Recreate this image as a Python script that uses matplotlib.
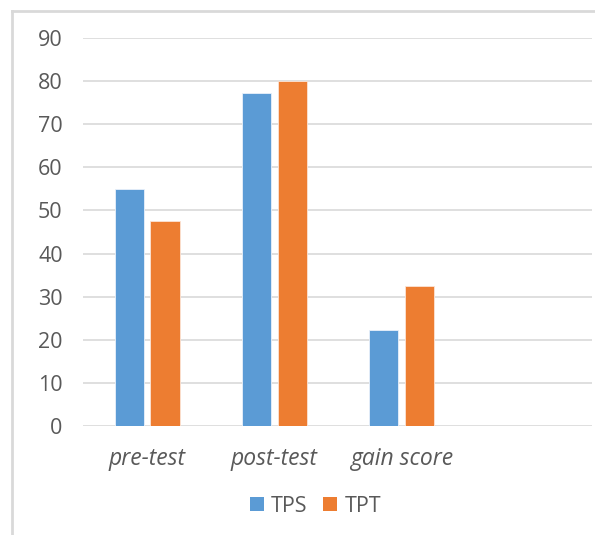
import matplotlib.pyplot as plt
from matplotlib.lines import Line2D
from matplotlib.patches import Patch
import numpy as np

plt.rcParams['font.family'] = ['Open Sans', 'DejaVu Sans']

# data
categories = ['pre-test', 'post-test', 'gain score']
tps = [55.0, 77.2, 22.3]
tpt = [47.5, 80.0, 32.4]
yticks = [0, 10, 20, 30, 40, 50, 60, 70, 80, 90]

blue = '#5B9BD5'
orange = '#ED7D31'
text_col = '#595959'
grid_col = '#D9D9D9'

fig = plt.figure(figsize=(5.95, 5.35), dpi=100)
ax = fig.add_axes([0.1403, 0.2037, 0.855, 0.7252])

x = np.arange(len(categories))
w = 0.23
ax.bar(x - 0.141, tps, w, color=blue, edgecolor='#EAF1FA', linewidth=0.6, zorder=3)
ax.bar(x + 0.141, tpt, w, color=orange, edgecolor='#FCE4D6', linewidth=0.6, zorder=3)

ax.set_xlim(-0.5, 3.5)
ax.set_ylim(0, 90)
ax.set_yticks(yticks)
ax.set_xticks(x)
ax.set_xticklabels(categories, fontsize=16.5, style='italic', color=text_col)
ax.tick_params(axis='y', length=0, pad=15, labelsize=15.5, labelcolor=text_col)
ax.tick_params(axis='x', length=0, pad=15)
ax.grid(True, axis='y', color=grid_col, linewidth=1.2, zorder=0)
for s in ax.spines.values():
    s.set_visible(False)

# legend
handles = [Patch(facecolor=blue, label='TPS'), Patch(facecolor=orange, label='TPT')]
leg = fig.legend(handles=handles, loc='center', bbox_to_anchor=(0.53, 0.054), ncol=2,
                 frameon=False, fontsize=15.5, handlelength=0.67, handleheight=0.63,
                 handletextpad=0.33, columnspacing=0.72)
for t in leg.get_texts():
    t.set_color(text_col)

# outer chart frame (left and top edges visible)
fig.add_artist(Line2D([12 / 595, 12 / 595], [0, 1 - 11 / 535], color=grid_col, lw=2,
                      transform=fig.transFigure))
fig.add_artist(Line2D([12 / 595, 1], [1 - 11 / 535, 1 - 11 / 535], color=grid_col, lw=2,
                      transform=fig.transFigure))

fig.savefig('out.png', dpi=100)
